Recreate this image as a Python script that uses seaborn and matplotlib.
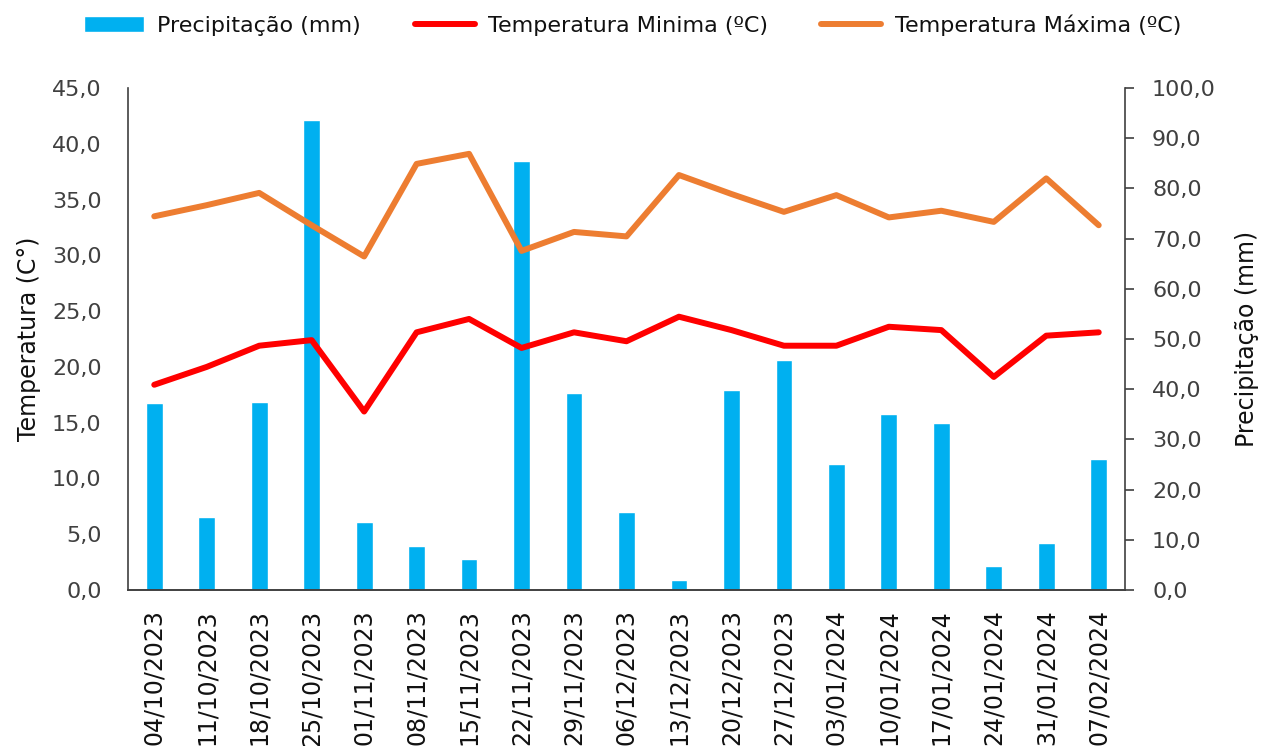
import numpy as np
import pandas as pd
import seaborn as sns
import matplotlib.pyplot as plt
from matplotlib.ticker import FuncFormatter, MultipleLocator
from matplotlib.patches import Patch
from matplotlib.lines import Line2D

# weekly dates
datas = ["04/10/2023", "11/10/2023", "18/10/2023", "25/10/2023", "01/11/2023",
         "08/11/2023", "15/11/2023", "22/11/2023", "29/11/2023", "06/12/2023",
         "13/12/2023", "20/12/2023", "27/12/2023", "03/01/2024", "10/01/2024",
         "17/01/2024", "24/01/2024", "31/01/2024", "07/02/2024"]

# precipitation (mm), right axis
precipitacao = [37.2, 14.6, 37.4, 93.6, 13.6, 8.8, 6.1, 85.4, 39.2, 15.5,
                1.9, 39.8, 45.9, 25.2, 35.0, 33.2, 4.8, 9.4, 26.1]

# temperatures (C), left axis
temp_min = [18.4, 20.0, 21.9, 22.4, 16.0, 23.1, 24.3, 21.7, 23.1, 22.3,
            24.5, 23.3, 21.9, 21.9, 23.6, 23.3, 19.1, 22.8, 23.1]
temp_max = [33.5, 34.5, 35.6, 32.7, 29.9, 38.2, 39.1, 30.4, 32.1, 31.7,
            37.2, 35.5, 33.9, 35.4, 33.4, 34.0, 33.0, 36.9, 32.7]

cor_chuva = "#00B0F0"
cor_min = "#FF0000"
cor_max = "#ED7D31"
cor_texto = "#404040"

df_chuva = pd.DataFrame({"Data": datas, "Precipitacao": precipitacao})
df_temp = pd.DataFrame({
    "Data": datas * 2,
    "Temp": temp_min + temp_max,
    "Serie": ["min"] * len(datas) + ["max"] * len(datas),
})

sns.set_style("white")
plt.rcParams["font.family"] = ["DejaVu Sans"]

fig = plt.figure(figsize=(12.65, 7.46), dpi=100)
ax = fig.add_axes([0.1012, 0.2091, 0.7881, 0.6729])
ax2 = ax.twinx()

# bars on the precipitation axis
sns.barplot(data=df_chuva, x="Data", y="Precipitacao", color=cor_chuva,
            width=0.32, saturation=1, ax=ax2)

# temperature lines
sns.lineplot(data=df_temp, x="Data", y="Temp", hue="Serie",
             palette={"min": cor_min, "max": cor_max}, sort=False,
             linewidth=4.3, legend=False, ax=ax)

# lines above bars
ax.set_zorder(ax2.get_zorder() + 1)
ax.patch.set_visible(False)

ax.set_ylim(0, 45)
ax.yaxis.set_major_locator(MultipleLocator(5))
ax2.set_ylim(0, 100)
ax2.yaxis.set_major_locator(MultipleLocator(10))
ax.set_xlim(-0.5, len(datas) - 0.5)

virgula = FuncFormatter(lambda v, p: f"{v:.1f}".replace(".", ","))
ax.yaxis.set_major_formatter(virgula)
ax2.yaxis.set_major_formatter(virgula)

ax.tick_params(axis="y", length=0, pad=19, labelsize=16, labelcolor=cor_texto)
ax2.tick_params(axis="y", length=6.5, width=1.2, pad=13, labelsize=16,
                labelcolor=cor_texto, color="#404040", direction="out")
ax.tick_params(axis="x", length=0, pad=14, labelsize=17, labelcolor="#111111",
               labelrotation=90)
ax2.tick_params(axis="x", length=0)

ax.set_xlabel("")
ax2.set_xlabel("")
ax.set_ylabel("Temperatura (C°)", fontsize=17, color="#111111", labelpad=8)
ax2.set_ylabel("Precipitação (mm)", fontsize=17, color="#111111", labelpad=14)

for a in (ax, ax2):
    a.spines["top"].set_visible(False)
    for s in ("left", "right", "bottom"):
        a.spines[s].set_color("#404040")
        a.spines[s].set_linewidth(1.2)
ax.spines["right"].set_visible(False)
ax2.spines["left"].set_visible(False)

handles = [
    Patch(facecolor=cor_chuva, label="Precipitação (mm)"),
    Line2D([0], [0], color=cor_min, lw=4.3, label="Temperatura Minima (ºC)"),
    Line2D([0], [0], color=cor_max, lw=4.3, label="Temperatura Máxima (ºC)"),
]
fig.legend(handles=handles, loc="upper center", bbox_to_anchor=(0.5, 1.008),
           ncol=3, frameon=False, fontsize=16, handlelength=2.7,
           columnspacing=2.4, handletextpad=0.6, labelcolor="#111111")

fig.savefig("out.png", dpi=100)
plt.close(fig)
